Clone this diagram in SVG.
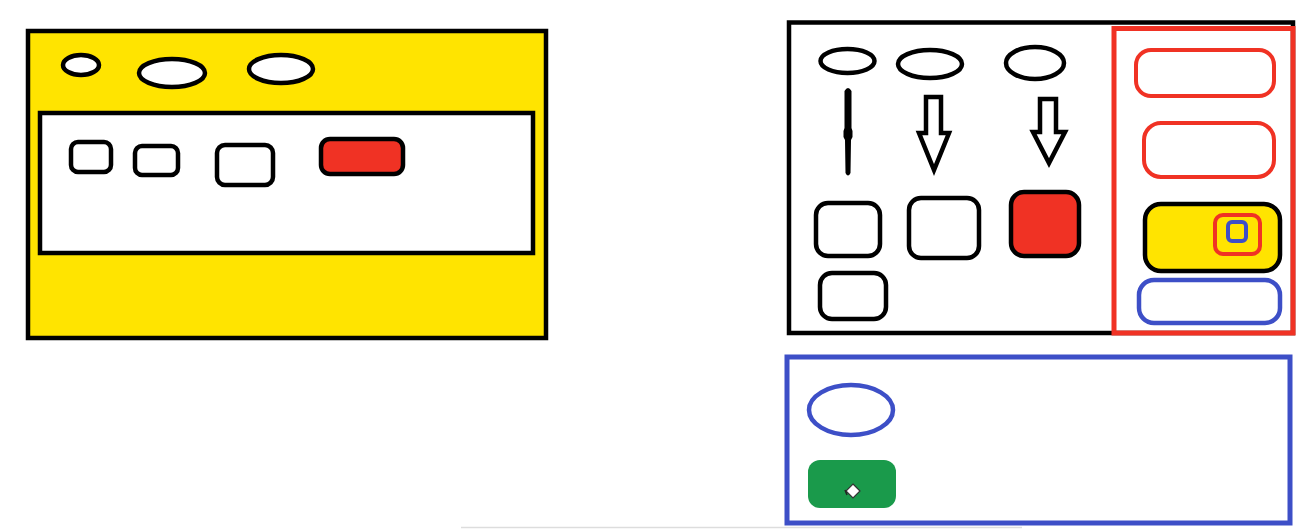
<svg xmlns="http://www.w3.org/2000/svg" width="1308" height="531" viewBox="0 0 1308 531">
<style>
.k{fill:#fff;stroke:#000;stroke-width:4.5}
.kf{stroke:#000;stroke-width:4.5}
.r{fill:#fff;stroke:#F03224;stroke-width:4}
.b{fill:#fff;stroke:#3D4FC7;stroke-width:4.5}
</style>
<rect width="1308" height="531" fill="#fff"/>
<g id="left-window">
<rect x="28" y="31" width="518" height="307" fill="#FFE400" class="kf" stroke-width="5"/>
<rect x="40" y="113" width="493" height="140" class="k" stroke-width="5"/>
<ellipse cx="81" cy="65" rx="18" ry="10" class="k" stroke-width="5"/>
<ellipse cx="172" cy="73" rx="33" ry="14" class="k" stroke-width="5"/>
<ellipse cx="281" cy="69" rx="32" ry="14" class="k" stroke-width="5"/>
<rect x="71" y="142" width="40" height="30" rx="7" class="k"/>
<rect x="135" y="146" width="43" height="29" rx="7" class="k"/>
<rect x="217" y="145" width="56" height="40" rx="8" class="k"/>
<rect x="321" y="139" width="82" height="35" rx="9" fill="#F03224" class="kf"/>
</g>
<g id="right-window">
<rect x="789" y="22.5" width="504" height="310.5" fill="#fff" class="kf" stroke-width="5"/>
<ellipse cx="847.5" cy="61" rx="27" ry="12" class="k"/>
<ellipse cx="930" cy="64" rx="32" ry="14" class="k"/>
<ellipse cx="1035" cy="63" rx="29" ry="16" class="k"/>
<path d="M844.5 91 Q848 85 851.5 91 L851.5 128 L852.5 131 L852.5 137 L851 140 L850.5 173 Q848 178 845.5 173 L845 140 L843.5 137 L843.5 131 L844.5 128 Z" fill="#000"/>
<rect x="816" y="203" width="64" height="53" rx="12" class="k"/>
<rect x="909" y="198" width="70" height="60" rx="12" class="k"/>
<rect x="1011" y="192" width="68" height="64" rx="13" fill="#F03224" class="kf"/>
<rect x="820" y="273" width="66" height="46" rx="12" class="k"/>
</g>
<g id="connectors">
<path d="M926 97 L941 97 L941 133 L949 133 L934 170 L919 133 L926 133 Z" class="k" stroke-linejoin="miter"/>
<path d="M1040 99 L1056 99 L1056 132 L1065 132 L1049 163 L1033 132 L1040 132 Z" class="k" stroke-linejoin="miter"/>
</g>
<g id="side-panel">
<rect x="1114" y="28.5" width="179" height="304.5" fill="none" stroke="#F03224" stroke-width="5"/>
<rect x="1136" y="50" width="138" height="46" rx="15" class="r"/>
<rect x="1144" y="123" width="130" height="54" rx="17" class="r"/>
<rect x="1145" y="204" width="135" height="67" rx="16" fill="#FFE400" class="kf" stroke-width="5"/>
<rect x="1215" y="215" width="45" height="39" rx="8" fill="none" stroke="#F03224" stroke-width="4"/>
<rect x="1228" y="222" width="18" height="19" rx="4" fill="none" stroke="#3D4FC7" stroke-width="4"/>
<rect x="1139" y="280" width="141" height="43" rx="15" class="b"/>
</g>
<g id="bottom-panel">
<rect x="787" y="357" width="503" height="166" fill="#fff" stroke="#3D4FC7" stroke-width="5"/>
<ellipse cx="851" cy="410" rx="42" ry="25" class="b"/>
<rect x="808" y="460" width="88" height="48" rx="12" fill="#1A9A4B"/>
<path d="M853 484 L860 491 L853 498 L846 491 Z" fill="#fff" stroke="#333" stroke-width="1.2"/>
<path d="M845 490 L847 495" stroke="#222" stroke-width="1.5"/>
</g>
<line x1="461" y1="527.5" x2="1022" y2="527.5" stroke="#ddd" stroke-width="1.5"/>
</svg>
